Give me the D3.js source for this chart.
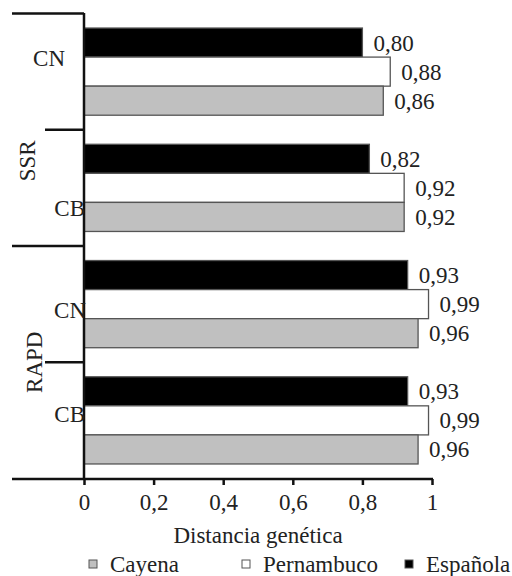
<!DOCTYPE html>
<html><head><meta charset="utf-8">
<script src="https://cdn.jsdelivr.net/npm/d3@7"></script>
<style>body{margin:0;background:#fff}svg{display:block}svg text{font-family:"Liberation Serif","DejaVu Serif","Times New Roman",serif}</style>
</head><body>
<svg id="c" width="512" height="576"></svg>
<script>
// ---- data ----
const markers = ["SSR", "SSR", "RAPD", "RAPD"];
const categories = ["CN", "CB", "CN", "CB"];
const seriesNames = ["Española", "Pernambuco", "Cayena"];
const espanola   = [0.80, 0.82, 0.93, 0.93];
const pernambuco = [0.88, 0.92, 0.99, 0.99];
const cayena     = [0.86, 0.92, 0.96, 0.96];
const xTicks = [0, 0.2, 0.4, 0.6, 0.8, 1];
const legendOrder = ["Cayena", "Pernambuco", "Española"];
const xTitle = "Distancia genética";

// ---- layout ----
const seriesValues = {"Española": espanola, "Pernambuco": pernambuco, "Cayena": cayena};
const colors = {"Española": "#000000", "Pernambuco": "#ffffff", "Cayena": "#c0c0c0"};
const keys = categories.map((c, i) => markers[i] + "-" + c);
const fs = 23;

const svg = d3.select("#c");
const x = d3.scaleLinear().domain([0, 1]).range([84, 432]);
const y0 = d3.scaleBand().domain(keys).range([13.5, 478.5]).paddingInner(0.25).paddingOuter(0.125);
const y1 = d3.scaleBand().domain(seriesNames).range([0, y0.bandwidth()]);

// bars
keys.forEach((k, i) => {
  const g = svg.append("g").attr("transform", `translate(0,${y0(k)})`);
  seriesNames.forEach(s => {
    const v = seriesValues[s][i];
    g.append("rect")
      .attr("x", x(0)).attr("y", y1(s))
      .attr("width", x(v) - x(0)).attr("height", y1.bandwidth())
      .attr("fill", colors[s]).attr("stroke", "#555").attr("stroke-width", 1.3);
    g.append("text")
      .attr("x", x(v) + 11).attr("y", y1(s) + y1.bandwidth() / 2)
      .attr("dy", "0.35em")
      .attr("font-size", fs).attr("fill", "#222")
      .text(d3.format(".2f")(v).replace(".", ","));
  });
});

// category axis
svg.append("line").attr("x1", x(0)).attr("x2", x(0)).attr("y1", 13).attr("y2", 480)
  .attr("stroke", "#111").attr("stroke-width", 2.5);
const step = y0.step();
const bounds = [13.5].concat(keys.slice(1).map(k => y0(k) - step * y0.paddingInner() / 2));
bounds.forEach((b, i) => {
  const long = i === 0 || markers[i] !== markers[i - 1];
  svg.append("line").attr("x1", long ? 12 : 45).attr("x2", x(0)).attr("y1", b).attr("y2", b)
    .attr("stroke", "#111").attr("stroke-width", 2.5);
});
const catNudge = [[-19, -14], [1, 20], [2, 6], [1, -6.5]];
keys.forEach((k, i) => {
  svg.append("text")
    .attr("x", x(0) + catNudge[i][0]).attr("y", y0(k) + y0.bandwidth() / 2 + catNudge[i][1])
    .attr("dy", "0.35em").attr("text-anchor", "end")
    .attr("font-size", fs).attr("fill", "#222")
    .text(categories[i]);
});
// marker labels
const markerGroups = d3.groups(keys.map((k, i) => ({k, m: markers[i]})), d => d.m);
const markerNudge = {"SSR": [27, 31], "RAPD": [34, 0]};
markerGroups.forEach(([m, arr]) => {
  const top = y0(arr[0].k) - step * 0.125, bot = y0(arr[arr.length - 1].k) + y0.bandwidth() + step * 0.125;
  const cy = (top + bot) / 2 + markerNudge[m][1];
  const cx = markerNudge[m][0];
  svg.append("text")
    .attr("transform", `translate(${cx},${cy}) rotate(-90)`)
    .attr("text-anchor", "middle").attr("dy", "0.35em")
    .attr("font-size", fs).attr("fill", "#222")
    .text(m);
});

// x axis
const axisY = 479;
svg.append("line").attr("x1", 12).attr("x2", x(1) + 1).attr("y1", axisY).attr("y2", axisY)
  .attr("stroke", "#111").attr("stroke-width", 2.5);
const ax = svg.append("g").attr("transform", `translate(0,${axisY})`)
  .call(d3.axisBottom(x).tickValues(xTicks).tickSize(6).tickPadding(9)
    .tickFormat(d => String(d).replace(".", ",")));
ax.select(".domain").remove();
ax.attr("font-family", null);
ax.selectAll(".tick line").attr("stroke", "#111").attr("stroke-width", 2.5);
ax.selectAll(".tick text").attr("font-size", fs).attr("fill", "#222");

svg.append("text").attr("x", x(0.5)).attr("y", 535).attr("dy", "0.35em")
  .attr("text-anchor", "middle").attr("font-size", fs).attr("fill", "#222")
  .text(xTitle);

// legend
const legX = [89, 242, 405];
legendOrder.forEach((s, i) => {
  svg.append("rect").attr("x", legX[i]).attr("y", 560).attr("width", 8).attr("height", 8)
    .attr("fill", colors[s]).attr("stroke", "#555").attr("stroke-width", 1);
  svg.append("text").attr("x", legX[i] + 21).attr("y", 564).attr("dy", "0.35em")
    .attr("font-size", fs).attr("fill", "#222").text(s);
});
</script>
</body></html>
